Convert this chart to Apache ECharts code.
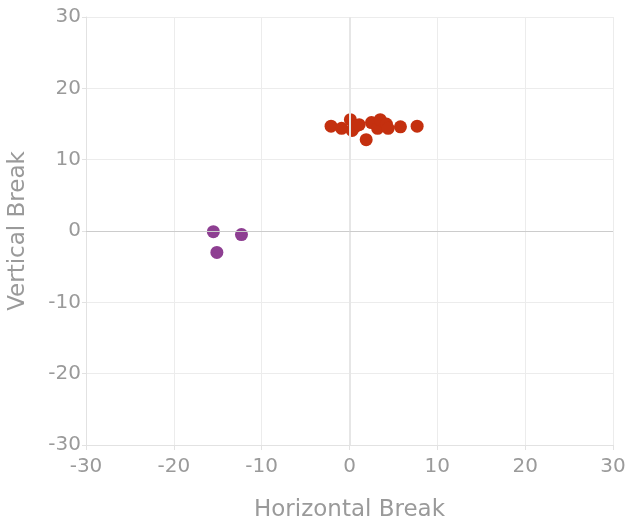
<!DOCTYPE html>
<html>
<head>
<meta charset="utf-8">
<script src="https://cdn.jsdelivr.net/npm/echarts@6/dist/echarts.min.js"></script>
<style>
  html, body { margin: 0; padding: 0; background: #fff; }
  #chart { width: 631px; height: 524px; }
</style>
</head>
<body>
<div id="chart"></div>
<script>
// 红色点：[水平, 垂直]
var redPoints = [
  [-2.1, 14.7], [-0.9, 14.4], [0.1, 15.6], [0.3, 14.1], [0.6, 14.6],
  [1.1, 14.9], [1.9, 12.8], [2.5, 15.2], [3.2, 14.4], [3.5, 15.6],
  [4.2, 15.0], [4.4, 14.4], [5.8, 14.6], [7.7, 14.7]
];
// 紫色点
var purplePoints = [
  [-15.5, -0.1], [-12.3, -0.5], [-15.1, -3.0]
];
var axisMin = -30, axisMax = 30, axisStep = 10;

var chart = echarts.init(document.getElementById('chart'));
var textColor = '#9a9a9a';
var fontName = 'DejaVu Sans';

var option = {
  animation: false,
  grid: { left: 86, right: 18, top: 17, bottom: 79, outerBoundsMode: 'none', containLabel: false },
  xAxis: {
    type: 'value',
    min: axisMin, max: axisMax, interval: axisStep,
    name: 'Horizontal Break',
    nameLocation: 'middle',
    nameGap: 54,
    nameTextStyle: { color: textColor, fontSize: 23, fontFamily: fontName },
    axisLine: { onZero: false, lineStyle: { color: '#e2e2e2' } },
    axisTick: { show: true, length: 5, lineStyle: { color: '#e2e2e2' } },
    axisLabel: { color: textColor, fontSize: 20, fontFamily: fontName, margin: 12 },
    splitLine: { lineStyle: { color: '#ececec' } }
  },
  yAxis: {
    type: 'value',
    min: axisMin, max: axisMax, interval: axisStep,
    name: 'Vertical Break',
    nameLocation: 'middle',
    nameGap: 56,
    nameRotate: 90,
    nameTextStyle: { color: textColor, fontSize: 23, fontFamily: fontName },
    axisLine: { onZero: false, show: true, lineStyle: { color: '#e2e2e2' } },
    axisTick: { show: true, length: 4, lineStyle: { color: '#e2e2e2' } },
    axisLabel: { color: textColor, fontSize: 20, fontFamily: fontName, margin: 5 },
    splitLine: { lineStyle: { color: '#ececec' } }
  },
  series: [{
    type: 'scatter',
    data: redPoints,
    symbolSize: 13,
    itemStyle: { color: '#c4300f', opacity: 1 },
    z: 3,
    markLine: {
      silent: true,
      symbol: 'none',
      label: { show: false },
      data: [
        { xAxis: 0, lineStyle: { type: 'solid', color: '#e6e6e6', width: 2 } },
        { yAxis: 0, lineStyle: { type: 'solid', color: '#cccccc', width: 1 } }
      ]
    }
  }, {
    type: 'scatter',
    data: purplePoints,
    symbolSize: 13,
    itemStyle: { color: '#8e3f92', opacity: 1 },
    z: 3
  }]
};
chart.setOption(option);
</script>
</body>
</html>
